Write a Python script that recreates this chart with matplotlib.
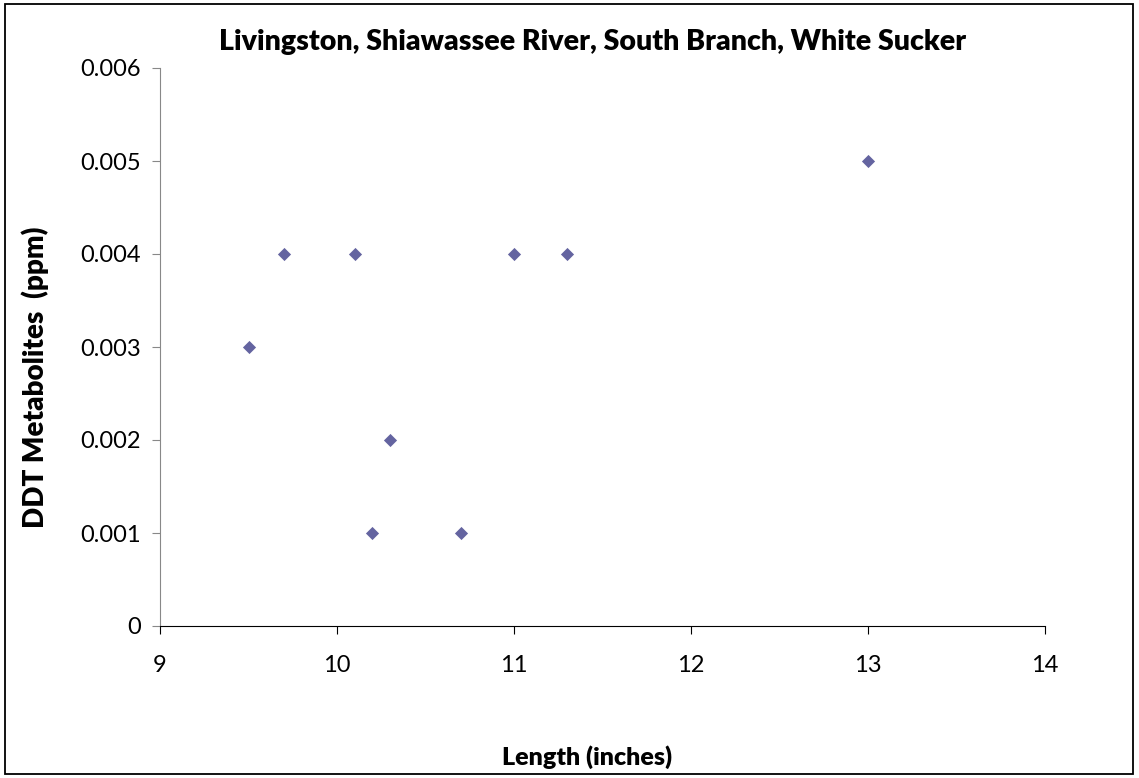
import matplotlib
matplotlib.use("Agg")
import matplotlib.pyplot as plt
from matplotlib.patches import Rectangle

length_in = [9.5, 9.7, 10.1, 10.2, 10.3, 10.7, 11.0, 11.3, 13.0]
ddt_ppm = [0.003, 0.004, 0.004, 0.001, 0.002, 0.001, 0.004, 0.004, 0.005]
x_ticks = [9, 10, 11, 12, 13, 14]
y_ticks = [0, 0.001, 0.002, 0.003, 0.004, 0.005, 0.006]
y_labels = ["0", "0.001", "0.002", "0.003", "0.004", "0.005", "0.006"]

plt.rcParams['font.family'] = ['Lato', 'DejaVu Sans']

W, H = 1139, 778
fig = plt.figure(figsize=(W / 100, H / 100), dpi=100)
fig.patches.append(Rectangle((5 / W, 4 / H), (1133 - 5) / W, (774 - 4) / H,
                             transform=fig.transFigure, fill=False,
                             edgecolor='black', linewidth=1.3))

ax = fig.add_axes([160 / W, 1 - 626 / H, (1045 - 160) / W, (626 - 68) / H])
ax.scatter(length_in, ddt_ppm, marker='D', s=45, color='#6464A0', zorder=3,
           linewidths=0)
ax.set_xlim(9, 14)
ax.set_ylim(0, 0.006)
ax.set_xticks(x_ticks)
ax.set_xticklabels([str(v) for v in x_ticks])
ax.set_yticks(y_ticks)
ax.set_yticklabels(y_labels)
for s in ['top', 'right']:
    ax.spines[s].set_visible(False)
ax.spines['left'].set_color('#888888')
ax.spines['bottom'].set_color('black')
ax.tick_params(axis='both', direction='out', length=6, labelsize=17)
ax.tick_params(axis='y', colors='#888888', labelcolor='black', pad=8)
ax.tick_params(axis='x', colors='black', labelcolor='black', pad=15)

ax.set_title("Livingston, Shiawassee River, South Branch, White Sucker",
             fontsize=20.5, fontweight='heavy', pad=13, x=0.489)
ax.set_xlabel("Length (inches)", fontsize=18, fontweight='heavy', labelpad=50, x=0.483)
ax.set_ylabel("DDT Metabolites  (ppm)", fontsize=20, fontweight='heavy',
              labelpad=22, y=0.446)

fig.savefig("out.png", dpi=100)
